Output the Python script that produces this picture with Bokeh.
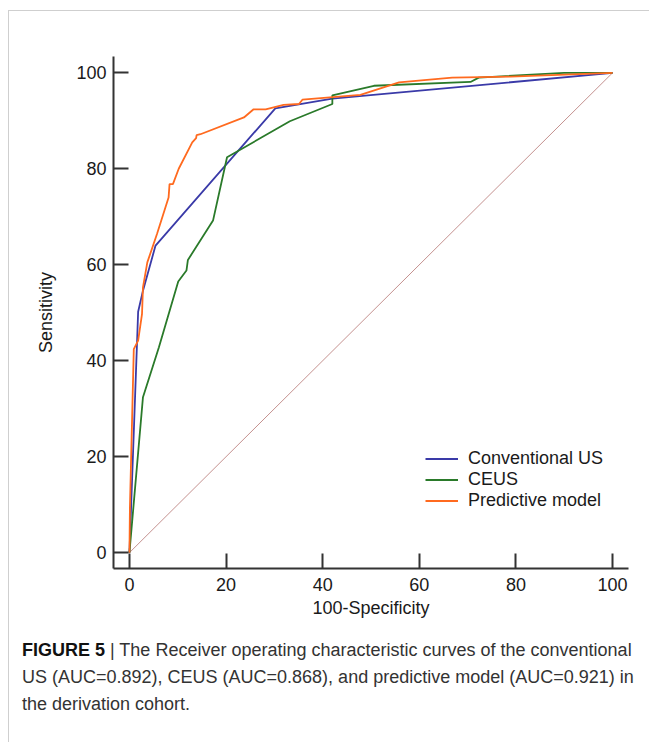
from bokeh.plotting import figure
from bokeh.models import Range1d, Legend, LegendItem, FixedTicker, Div
from bokeh.layouts import column
from bokeh.embed import file_html
from bokeh.resources import INLINE

# ---- data ----
us_x = [0, 1.8, 2.8, 5.4, 30.2, 42.0, 100]
us_y = [0, 50.2, 54.6, 64.0, 92.6, 94.6, 100]

ceus_x = [0, 2.8, 6.1, 10.1, 11.8, 12.1, 17.3, 20.2, 33.2, 42.0, 42.0, 50.6, 70.6, 72.3, 90.0, 100]
ceus_y = [0, 32.4, 42.8, 56.5, 58.8, 61.0, 69.2, 82.4, 89.9, 93.5, 95.3, 97.3, 98.1, 99.0, 100, 100]

pm_x = [0, 0.1, 0.9, 1.8, 2.6, 2.8, 3.7, 5.7, 8.1, 8.3, 9.0, 10.2, 13.0, 13.8, 13.9, 14.7,
        23.7, 25.7, 28.2, 31.9, 35.1, 35.8, 47.8, 55.8, 66.8, 78.9, 100]
pm_y = [0, 9.4, 42.4, 44.2, 49.7, 55.3, 60.5, 66.4, 74.0, 76.8, 76.8, 80.0, 85.5, 86.4, 87.0, 87.2,
        90.7, 92.4, 92.4, 93.3, 93.5, 94.4, 95.4, 98.0, 99.0, 99.2, 100]

ref_x = [0, 100]
ref_y = [0, 100]

ticks = [0, 20, 40, 60, 80, 100]
series_names = ["Conventional US", "CEUS", "Predictive model"]

caption_bold = "FIGURE 5"
caption_lines = [
    " | The Receiver operating characteristic curves of the conventional",
    "US (AUC=0.892), CEUS (AUC=0.868), and predictive model (AUC=0.921) in",
    "the derivation cohort.",
]

FONT = "Liberation Sans"
FS = "18px"

p = figure(frame_width=515, frame_height=512,
           min_border_left=104, min_border_right=19, min_border_top=45, min_border_bottom=64,
           x_range=Range1d(-3.3, 103.3), y_range=Range1d(-3.3, 103.4),
           output_backend="svg", toolbar_location=None)
p.outline_line_color = None
p.grid.visible = False
p.background_fill_color = "white"
p.border_fill_color = "white"

for ax in (p.xaxis[0], p.yaxis[0]):
    ax.ticker = FixedTicker(ticks=ticks)
    ax.minor_tick_line_color = None
    ax.major_tick_in = 15
    ax.major_tick_out = 0
    ax.major_tick_line_width = 2
    ax.major_tick_line_color = "#333333"
    ax.axis_line_width = 2
    ax.axis_line_color = "#333333"
    ax.major_label_text_font = FONT
    ax.major_label_text_font_size = FS
    ax.major_label_text_color = "#1a1a1a"
    ax.axis_label_text_font = FONT
    ax.axis_label_text_font_size = FS
    ax.axis_label_text_font_style = "normal"
    ax.axis_label_text_color = "#1a1a1a"

p.xaxis.axis_label = "100-Specificity"
p.yaxis.axis_label = "Sensitivity"
p.xaxis.major_label_standoff = 9
p.yaxis.major_label_standoff = 7
p.xaxis.axis_label_standoff = 4
p.yaxis.axis_label_standoff = 17

p.line(ref_x, ref_y, line_color="#c4918f", line_width=1)
r1 = p.line(us_x, us_y, line_color="#3a3aa8", line_width=1.8)
r2 = p.line(ceus_x, ceus_y, line_color="#2a7a2a", line_width=1.8)
r3 = p.line(pm_x, pm_y, line_color="#ff6a1f", line_width=1.8)

legend = Legend(items=[LegendItem(label=series_names[0], renderers=[r1]),
                       LegendItem(label=series_names[1], renderers=[r2]),
                       LegendItem(label=series_names[2], renderers=[r3])],
                location=(312, 57), padding=0, margin=0, spacing=0,
                glyph_width=33, glyph_height=21, label_height=21, label_standoff=10,
                label_text_font=FONT, label_text_font_size=FS, label_text_color="#1a1a1a",
                border_line_color=None, background_fill_alpha=0)
p.add_layout(legend)

caption_html = ("<b style='color:#111'>" + caption_bold + "</b>" + caption_lines[0] + "<br>"
                + caption_lines[1] + "<br>" + caption_lines[2])
cap = Div(text=caption_html, width=630, height=112,
          styles={"font-family": FONT, "font-size": FS, "line-height": "27px",
                  "color": "#333333", "white-space": "nowrap",
                  "padding-left": "8px", "padding-top": "0px"})

layout = column(p, cap, spacing=0,
                styles={"margin-top": "10px", "margin-left": "8px",
                        "border-top": "1px solid #cfcfcf", "border-left": "1px solid #cfcfcf"})

open("out.html", "w").write(file_html(layout, INLINE))
